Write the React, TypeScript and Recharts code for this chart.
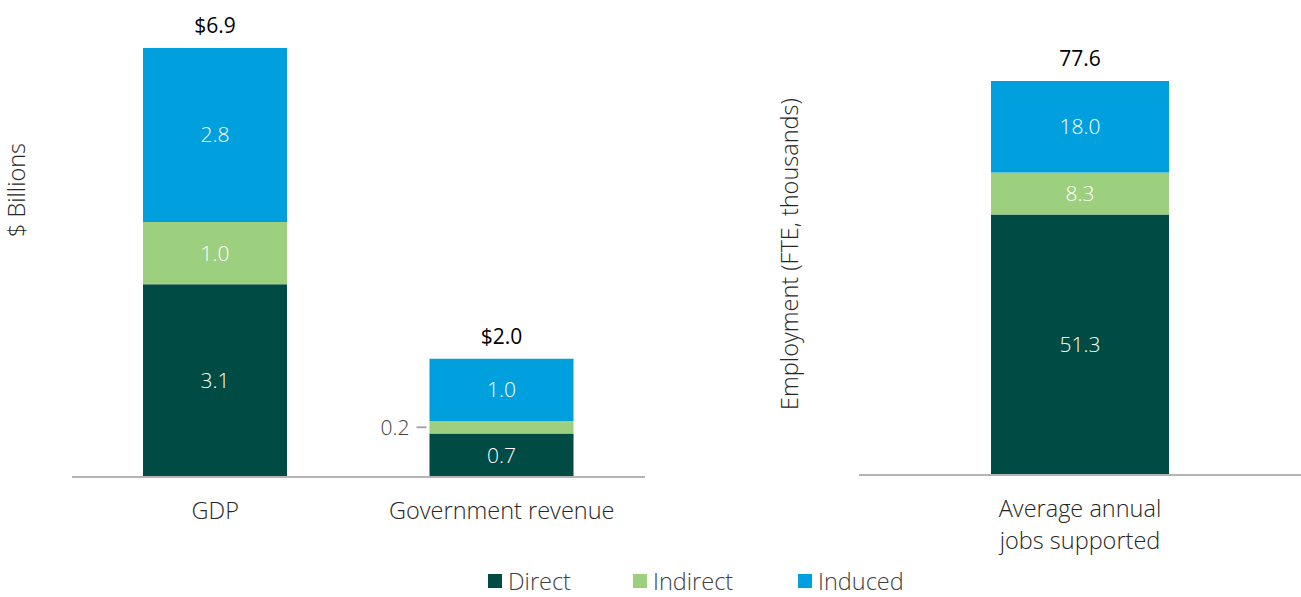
import React from 'react';
import { BarChart, Bar, XAxis, YAxis, LabelList } from 'recharts';

const FONT = '"Open Sans", Lato, sans-serif';
const WORD_SIZE = 23.5;

const seriesKeys = ['direct', 'indirect', 'induced'];
const seriesNames = ['Direct', 'Indirect', 'Induced'];
const seriesColors = ['#004B43', '#9DD07E', '#00A0DF'];

const leftCategories = ['GDP', 'Government revenue'];
const leftDirect = [3.1, 0.7];
const leftIndirect = [1.0, 0.2];
const leftInduced = [2.8, 1.0];
const leftTotals = ['$6.9', '$2.0'];

const rightCategories = ['Average annual jobs supported'];
const rightDirect = [51.3];
const rightIndirect = [8.3];
const rightInduced = [18.0];
const rightTotals = ['77.6'];

const legendX = [488, 633, 798];

const leftData = leftCategories.map((c, i) => ({
  name: c,
  direct: leftDirect[i],
  indirect: leftIndirect[i],
  induced: leftInduced[i],
}));
const rightData = rightCategories.map((c, i) => ({
  name: c,
  direct: rightDirect[i],
  indirect: rightIndirect[i],
  induced: rightInduced[i],
}));

const inner = (props: any) => {
  const { x, y, width, height, value } = props;
  if (height < 20) {
    const cy = y + height / 2;
    return (
      <g>
        <line x1={x - 13} x2={x - 3} y1={cy} y2={cy} stroke="#A6A6A6" strokeWidth={2} />
        <text x={x - 20} y={cy} dy="0.35em" textAnchor="end" fill="#404040" fontSize={21} fontFamily={FONT} fontWeight={300}>
          {Number(value).toFixed(1)}
        </text>
      </g>
    );
  }
  return (
    <text x={x + width / 2} y={y + height / 2} dy="0.35em" textAnchor="middle" fill="#FFFFFF" fontSize={21} fontFamily={FONT} fontWeight={300}>
      {Number(value).toFixed(1)}
    </text>
  );
};

const totalLabel = (totals: string[]) => (props: any) => {
  const { x, y, width, index } = props;
  return (
    <text x={x + width / 2} y={y - 15} textAnchor="middle" fill="#000" fontSize={21} fontFamily={FONT} fontWeight={400}>
      {totals[index]}
    </text>
  );
};

const catTick = (props: any) => {
  const { x, y, payload } = props;
  const words = String(payload.value).split(' ');
  let lines: string[] = [String(payload.value)];
  if (words.length > 3) {
    lines = [words.slice(0, 2).join(' '), words.slice(2).join(' ')];
  }
  return (
    <text x={x} y={y} textAnchor="middle" fill="#262626" fontSize={WORD_SIZE} fontFamily={FONT} fontWeight={300}>
      {lines.map((l, i) => (
        <tspan key={i} x={x} dy={i === 0 ? 34 : 32}>{l}</tspan>
      ))}
    </text>
  );
};

const YTitle = (props: any) => {
  const { text, cx, cy } = props;
  return (
    <text x={cx} y={cy} transform={`rotate(-90, ${cx}, ${cy})`} textAnchor="middle" dy="0.35em" fill="#262626" fontSize={WORD_SIZE} fontFamily={FONT} fontWeight={300}>
      {text}
    </text>
  );
};

export default function App() {
  return (
    <div style={{ position: 'absolute', left: 0, top: 0, width: 1301, height: 597, background: '#fff', fontFamily: FONT }}>
      <div style={{ position: 'absolute', left: 0, top: 0 }}>
        <BarChart width={660} height={540} data={leftData} margin={{ top: 48, right: 15, bottom: 0, left: 0 }}>
          <YAxis width={72} domain={[0, 6.9]} allowDataOverflow tick={false} axisLine={false} tickLine={false}
            label={<YTitle text="$ Billions" cx={17} cy={190} />} />
          <XAxis dataKey="name" height={63} tickLine={false} axisLine={{ stroke: '#B4B4B4', strokeWidth: 2 }} tick={catTick} interval={0} />
          {seriesKeys.map((k, i) => (
            <Bar key={k} dataKey={k} stackId="a" fill={seriesColors[i]} barSize={144} isAnimationActive={false}>
              <LabelList dataKey={k} content={inner} />
              {i === 2 ? <LabelList dataKey={k} content={totalLabel(leftTotals)} /> : null}
            </Bar>
          ))}
        </BarChart>
      </div>
      <div style={{ position: 'absolute', left: 760, top: 0 }}>
        <BarChart width={541} height={560} data={rightData} margin={{ top: 81, right: 0, bottom: 0, left: 0 }}>
          <YAxis width={99} domain={[0, 77.6]} allowDataOverflow tick={false} axisLine={false} tickLine={false}
            label={<YTitle text="Employment (FTE, thousands)" cx={30} cy={254} />} />
          <XAxis dataKey="name" height={85} tickLine={false} axisLine={{ stroke: '#B4B4B4', strokeWidth: 2 }} tick={catTick} interval={0} />
          {seriesKeys.map((k, i) => (
            <Bar key={k} dataKey={k} stackId="a" fill={seriesColors[i]} barSize={178} isAnimationActive={false}>
              <LabelList dataKey={k} content={inner} />
              {i === 2 ? <LabelList dataKey={k} content={totalLabel(rightTotals)} /> : null}
            </Bar>
          ))}
        </BarChart>
      </div>
      {seriesNames.map((n, i) => (
        <div key={n} style={{ position: 'absolute', left: legendX[i], top: 568, height: 26, lineHeight: '26px', display: 'flex', alignItems: 'center', fontSize: WORD_SIZE, color: '#404040', fontWeight: 300 }}>
          <span style={{ display: 'inline-block', width: 14, height: 14, background: seriesColors[i], marginRight: 6 }} />
          <span>{n}</span>
        </div>
      ))}
    </div>
  );
}
